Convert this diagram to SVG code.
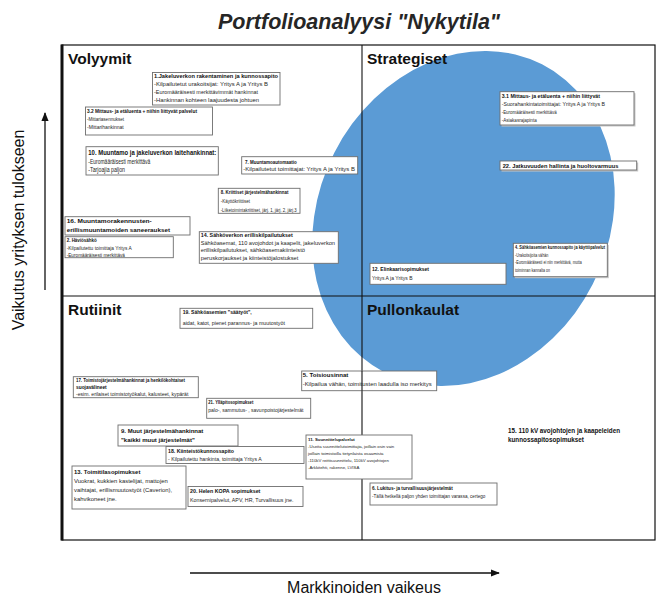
<svg xmlns="http://www.w3.org/2000/svg" width="659" height="595" viewBox="0 0 659 595">
  <style>
    text { font-family: "Liberation Sans", Arial, sans-serif; fill: #262626; }
    .b { font-weight: bold; fill: #111; }
    .bx { fill: #fff; stroke: #6e6e6e; stroke-width: 0.9; }
    .sh { fill: #c8c8c8; }
    .quad { font-size: 15.5px; font-weight: bold; fill: #111; }
    .axis { font-size: 16px; fill: #111; }
  </style>
  <defs>
    <marker id="arr" viewBox="0 0 10 10" refX="9" refY="5" markerWidth="7" markerHeight="7" orient="auto">
      <path d="M0,1 L10,5 L0,9 Z" fill="#111"/>
    </marker>
  </defs>

  <rect width="659" height="595" fill="#fff"/>

  <!-- title -->
  <text x="359" y="29" text-anchor="middle" font-size="21.5" font-weight="bold" font-style="italic" fill="#111">Portfolioanalyysi "Nykytila"</text>

  <!-- strategic focus area -->
  <ellipse cx="463.5" cy="218.5" rx="145" ry="173" transform="rotate(27 463.5 218.5)" fill="#5b9bd5"/>

  <!-- matrix frame and quadrant dividers -->
  <g id="frame" fill="none" stroke="#111">
    <rect x="62" y="45" width="593" height="495" stroke-width="1.2"/>
    <line x1="62" y1="44.5" x2="62" y2="540.5" stroke-width="3"/>
    <line x1="362" y1="45" x2="362" y2="540" stroke-width="1.1"/>
    <line x1="62" y1="296" x2="655" y2="296" stroke-width="1.1"/>
  </g>

  <!-- quadrant names -->
  <text class="quad" x="68" y="64">Volyymit</text>
  <text class="quad" x="367" y="64">Strategiset</text>
  <text class="quad" x="68" y="315">Rutiinit</text>
  <text class="quad" x="367" y="315">Pullonkaulat</text>

  <!-- axes -->
  <g id="connectors" stroke="#111" stroke-width="1.3" fill="none">
    <line x1="45" y1="290" x2="45" y2="113" marker-end="url(#arr)"/>
    <line x1="190" y1="573" x2="499" y2="573" marker-end="url(#arr)"/>
  </g>
  <text class="axis" transform="translate(23.5 230) rotate(-90)" text-anchor="middle" font-size="17.7">Vaikutus yrityksen tulokseen</text>
  <text class="axis" x="364" y="593" text-anchor="middle">Markkinoiden vaikeus</text>

  <!-- Volyymit -->
  <g id="n1" font-size="5.4">
    <rect class="bx" x="152.5" y="72.5" width="127.5" height="32.5"/>
    <text class="b" x="154" y="78" textLength="124" lengthAdjust="spacingAndGlyphs">1.Jakeluverkon rakentaminen ja kunnossapito</text>
    <text x="154" y="86" textLength="114" lengthAdjust="spacingAndGlyphs">-Kilpailutetut urakoitsijat: Yritys A ja Yritys B</text>
    <text x="154" y="94" textLength="104" lengthAdjust="spacingAndGlyphs">-Euromääräisesti merkittävimmät hankinnat</text>
    <text x="154" y="101.7" textLength="105" lengthAdjust="spacingAndGlyphs">-Hankinnan kohteen laajuudesta johtuen</text>
  </g>

  <g id="n3-2" font-size="4.6">
    <rect class="bx" x="85.5" y="107" width="127" height="28"/>
    <text class="b" x="87" y="112.6" textLength="110" lengthAdjust="spacingAndGlyphs">3.2 Mittaus- ja etäluenta + niihin liittyvät palvelut</text>
    <text x="87" y="120.9" textLength="37" lengthAdjust="spacingAndGlyphs">-Mittariasennukset</text>
    <text x="87" y="129.3" textLength="36.7" lengthAdjust="spacingAndGlyphs">-Mittarihankinnat</text>
  </g>

  <g id="n10" font-size="6.3">
    <rect class="bx" x="86" y="146.7" width="132.3" height="28.3"/>
    <text class="b" x="88.3" y="154.5" textLength="128" lengthAdjust="spacingAndGlyphs">10. Muuntamo ja jakeluverkon laitehankinnat:</text>
    <text x="88.3" y="163.9" textLength="62" lengthAdjust="spacingAndGlyphs">-Euromääräisesti merkittävä</text>
    <text x="88.3" y="172.2" textLength="36.7" lengthAdjust="spacingAndGlyphs">-Tarjoajia paljon</text>
  </g>

  <g id="n7" font-size="5">
    <rect class="bx" x="241.7" y="156.7" width="116" height="17.3"/>
    <text class="b" x="245" y="163.5" textLength="51.7" lengthAdjust="spacingAndGlyphs">7. Muuntamoautomaatio</text>
    <text x="243.3" y="171" textLength="111.7" lengthAdjust="spacingAndGlyphs">-Kilpailutetut toimittajat: Yritys A ja Yritys B</text>
  </g>

  <g id="n8" font-size="4.7">
    <rect class="bx" x="218.3" y="188.3" width="81.7" height="25"/>
    <text class="b" x="220.7" y="194.3" textLength="67.7" lengthAdjust="spacingAndGlyphs">8. Kriittiset järjestelmähankinnat</text>
    <text x="220.7" y="203.3" textLength="29.3" lengthAdjust="spacingAndGlyphs">-Käyttökriittiset</text>
    <text x="220.7" y="211.6" textLength="76" lengthAdjust="spacingAndGlyphs">-Liiketoimintakriittiset, järj. 1, järj. 2, järj.3</text>
  </g>

  <g id="n16" font-size="6.2">
    <rect class="bx" x="65" y="216.7" width="125" height="18.3"/>
    <text class="b" x="66.7" y="222.9" textLength="85" lengthAdjust="spacingAndGlyphs">16. Muuntamorakennusten-</text>
    <text class="b" x="66.7" y="231.5" textLength="103.3" lengthAdjust="spacingAndGlyphs">erillismuuntamoiden saneeraukset</text>
  </g>

  <g id="n2" font-size="4.7">
    <rect class="bx" x="65" y="236.7" width="108.3" height="21"/>
    <text class="b" x="66.7" y="241.7" textLength="30" lengthAdjust="spacingAndGlyphs">2. Häviösähkö</text>
    <text x="66.7" y="250" textLength="65" lengthAdjust="spacingAndGlyphs">-Kilpailutettu toimittaja Yritys A</text>
    <text x="66.7" y="257.3" textLength="58.3" lengthAdjust="spacingAndGlyphs">-Euromääräisesti merkittävä</text>
  </g>

  <g id="n14" font-size="5.1">
    <rect class="bx" x="199.3" y="231.7" width="139" height="31.6"/>
    <text class="b" x="200.7" y="236.8" textLength="92" lengthAdjust="spacingAndGlyphs">14. Sähköverkon erilliskilpailutukset</text>
    <text x="200.7" y="244.5" textLength="134.3" lengthAdjust="spacingAndGlyphs">Sähköasemat, 110 avojohdot ja kaapelit, jakeluverkon</text>
    <text x="200.7" y="251.8" textLength="104.3" lengthAdjust="spacingAndGlyphs">erilliskilpailutukset, sähköasemakiinteistö</text>
    <text x="200.7" y="259.5" textLength="97.7" lengthAdjust="spacingAndGlyphs">peruskorjaukset ja kiinteistöjalostukset</text>
  </g>

  <!-- Strategiset -->
  <g id="n3-1" font-size="4.9">
    <rect class="sh" x="501.5" y="93.2" width="134" height="33.3"/>
    <rect class="bx" x="500" y="91.7" width="134" height="33.3"/>
    <text class="b" x="501.7" y="97.7" textLength="98.3" lengthAdjust="spacingAndGlyphs">3.1 Mittaus- ja etäluenta + niihin liittyvät</text>
    <text x="501.7" y="106" textLength="103.3" lengthAdjust="spacingAndGlyphs">-Suorahankintatoimittajat: Yritys A ja Yritys B</text>
    <text x="501.7" y="114.4" textLength="55" lengthAdjust="spacingAndGlyphs">-Euromääräisesti merkittävä</text>
    <text x="501.7" y="122.4" textLength="35" lengthAdjust="spacingAndGlyphs">-Asiakasrajapinta</text>
  </g>

  <g id="n22" font-size="5.2">
    <rect class="sh" x="501.5" y="162.5" width="136.7" height="9"/>
    <rect class="bx" x="500" y="161" width="136.7" height="9"/>
    <text class="b" x="502.7" y="167.5" textLength="115.7" lengthAdjust="spacingAndGlyphs">22. Jatkuvuuden hallinta ja huoltovarmuus</text>
  </g>

  <g id="n4" font-size="4.7">
    <rect class="sh" x="514.8" y="244.8" width="94" height="33.4"/>
    <rect class="bx" x="513.3" y="243.3" width="94" height="33.4"/>
    <text class="b" x="515" y="249.4" textLength="90" lengthAdjust="spacingAndGlyphs">4. Sähköasemien kunnossapito ja käyttöpalvelut</text>
    <text x="515" y="256.7" textLength="33.3" lengthAdjust="spacingAndGlyphs">-Urakoitsijoita vähän</text>
    <text x="515" y="264.4" textLength="66.7" lengthAdjust="spacingAndGlyphs">-Euromääräisesti ei niin merkittävä, mutta</text>
    <text x="515" y="272.4" textLength="35" lengthAdjust="spacingAndGlyphs">toiminnan kannalta on</text>
  </g>

  <g id="n12" font-size="5">
    <rect class="bx" x="370" y="263.3" width="136" height="21"/>
    <text class="b" x="372" y="270.5">12. Elinkaarisopimukset</text>
    <text x="372" y="279.5">Yritys A ja Yritys B</text>
  </g>

  <!-- Rutiinit -->
  <g id="n19" font-size="5">
    <rect class="bx" x="180" y="308.3" width="132.7" height="20"/>
    <text class="b" x="182.7" y="314" textLength="69" lengthAdjust="spacingAndGlyphs">19. Sähköasemien "säätyöt",</text>
    <text x="182.7" y="325" textLength="102.3" lengthAdjust="spacingAndGlyphs">aidat, katot, pienet parannus- ja muutostyöt</text>
  </g>

  <g id="n17" font-size="4.8">
    <rect class="bx" x="73.3" y="376.7" width="125" height="21"/>
    <text class="b" x="76" y="381.7" textLength="109" lengthAdjust="spacingAndGlyphs">17. Toimistojärjestelmähankinnat ja henkilökohtaiset</text>
    <text class="b" x="76" y="389" textLength="30.7" lengthAdjust="spacingAndGlyphs">suojavälineet</text>
    <text x="76" y="396" textLength="112.3" lengthAdjust="spacingAndGlyphs">-esim. erilaiset toimistotyökalut, kalusteet, kypärät</text>
  </g>

  <g id="n21" font-size="5">
    <rect class="bx" x="206.7" y="398.3" width="104" height="20"/>
    <text class="b" x="208.3" y="403.5" textLength="45" lengthAdjust="spacingAndGlyphs">21. Ylläpitosopimukset</text>
    <text x="208.3" y="412">palo-, sammutus- , savunpoistojärjestelmät</text>
  </g>

  <g id="n9" font-size="6">
    <rect class="bx" x="118" y="425" width="120" height="21"/>
    <text class="b" x="121" y="432.5">9. Muut järjestelmähankinnat</text>
    <text class="b" x="121" y="442">"kaikki muut järjestelmät"</text>
  </g>

  <g id="n18" font-size="5.2">
    <rect class="bx" x="166" y="446.5" width="138" height="17"/>
    <text class="b" x="168" y="452.5">18. Kiinteistökunnossapito</text>
    <text x="168" y="460.5">- Kilpailutettu hankinta, toimittaja Yritys A</text>
  </g>

  <g id="n13" font-size="5.9">
    <rect class="bx" x="72" y="466" width="114" height="43"/>
    <text class="b" x="74" y="473.5">13. Toimitilasopimukset</text>
    <text x="74" y="482.5">Vuokrat, kukkien kastelijat, mattojen</text>
    <text x="74" y="491.5">vaihtajat, erillismuutostyöt (Caverion),</text>
    <text x="74" y="500.5">kahvikoneet jne.</text>
  </g>

  <g id="n20" font-size="5.3">
    <rect class="bx" x="188" y="486.5" width="115" height="20"/>
    <text class="b" x="190" y="493">20. Helen KOPA sopimukset</text>
    <text x="190" y="502">Konsernipalvelut, APV, HR, Turvallisuus jne.</text>
  </g>

  <!-- Pullonkaulat -->
  <g id="n5" font-size="5">
    <rect class="bx" x="301.7" y="371" width="135" height="19.7"/>
    <line x1="362" y1="371" x2="362" y2="390.7" stroke="#111" stroke-width="1.1"/>
    <text class="b" x="302.7" y="376.7" textLength="45.7" lengthAdjust="spacingAndGlyphs">5. Toisiousinnat</text>
    <text x="302.7" y="385.7" textLength="129" lengthAdjust="spacingAndGlyphs">-Kilpailua vähän, toimitusten laadulla iso merkitys</text>
  </g>

  <g id="n11" font-size="4.3">
    <rect class="bx" x="306" y="435" width="106" height="44"/>
    <text class="b" x="308" y="440.5">11. Suunnittelupalvelut</text>
    <text x="308" y="447.5">-Useita suunnittelutoimittajia, joillain osin vain</text>
    <text x="308" y="454.5">joillain toimistoilla tietynlaista osaamista</text>
    <text x="308" y="461.5">-110kV reittisuunnittelu, 110kV avojohtojen</text>
    <text x="308" y="468.5">-Arkkitehti, rakenne, LVISA</text>
  </g>

  <g id="n6" font-size="4.6">
    <rect class="bx" x="370" y="483" width="127" height="22"/>
    <text class="b" x="372" y="489.5">6. Lukitus- ja turvallisuusjärjestelmät</text>
    <text x="372" y="497.5">-Tällä hetkellä paljon yhden toimittajan varassa, certego</text>
  </g>

  <g id="n15" font-size="6.3">
    <text class="b" x="508" y="433">15. 110 kV avojohtojen ja kaapeleiden</text>
    <text class="b" x="508" y="442">kunnossapitosopimukset</text>
  </g>
</svg>
